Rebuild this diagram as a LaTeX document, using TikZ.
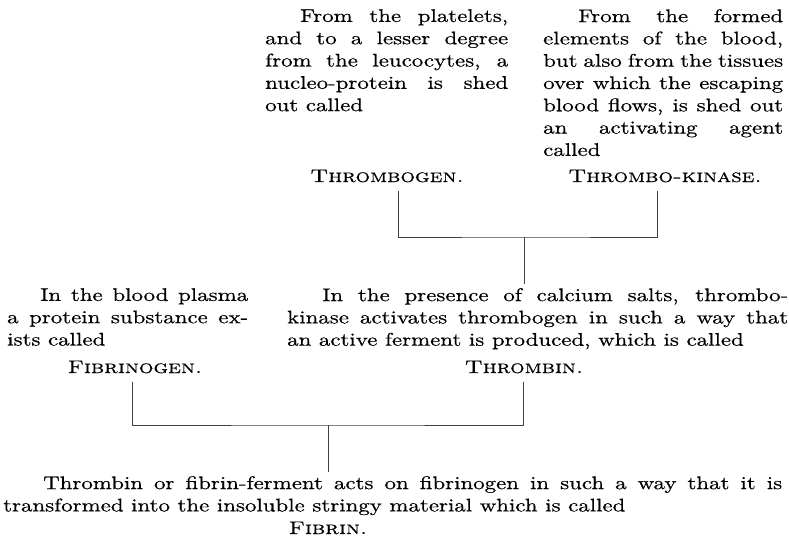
\documentclass[tikz,border=0pt]{standalone}
\usepackage{fontspec}
\setmainfont{lmroman10-regular.otf}[
  FakeStretch=1.25,
  FakeBold=0.5,
  SmallCapsFont=lmromancaps10-regular.otf]
\newcommand{\bookfont}{\fontsize{18.3}{22.3}\selectfont}
\tolerance=10000
\hbadness=10000
\hyphenpenalty=10000
\exhyphenpenalty=10000

\begin{document}
\begin{tikzpicture}[x=1pt, y=-1pt,
  para/.style={anchor=north west, inner sep=0pt, align=justify, font=\bookfont},
  substance/.style={anchor=base, inner sep=0pt, outer ysep=9pt, font=\bookfont\scshape},
  rule/.style={line width=0.6pt, black!75},
]
  \useasboundingbox (0,0) rectangle (789,541);

  % what is shed out of the blood
  \node[para, text width=243pt] (platelets) at (265,9) {\hspace*{35pt}From the platelets,\linebreak and to a lesser degree\linebreak from the leucocytes, a\linebreak nucleo-protein is shed\linebreak out called};
  \node[para, text width=240pt] (elements) at (543,9) {\hspace*{35pt}From the formed\linebreak elements of the blood,\linebreak but also from the tissues\linebreak over which the escaping\linebreak blood flows, is shed out\linebreak an activating agent\linebreak called};
  \node[substance] (thrombogen) at (387,182) {Thrombogen.};
  \node[substance] (kinase) at (665,182) {Thrombo-kinase.};

  % middle row
  \node[para, text width=241pt] (plasma) at (7,288) {\hspace*{33pt}In the blood plasma\linebreak a protein substance ex-\linebreak ists called};
  \node[para, text width=501pt] (presence) at (287,288) {\hspace*{35pt}In the presence of calcium salts, thrombo-\linebreak kinase activates thrombogen in such a way that\linebreak an active ferment is produced, which is called};
  \node[substance] (fibrinogen) at (135,373) {Fibrinogen.};
  \node[substance] (thrombin) at (524,373) {Thrombin.};

  % result
  \node[para, text width=779pt] (ferment) at (3,476) {\hspace*{40pt}Thrombin or fibrin-ferment acts on fibrinogen in such a way that it is\linebreak transformed into the insoluble stringy material which is called};
  \node[substance] (fibrin) at (328,534) {Fibrin.};

  \coordinate (upper join) at (524,237);
  \coordinate (lower join) at (328,425);
  \draw[rule] ([xshift=11pt]thrombogen.south) |- (upper join) -| ([xshift=-8pt]kinase.south);
  \draw[rule, shorten >=4pt] (upper join) -- (upper join |- presence.north);
  \draw[rule] ([xshift=-3pt]fibrinogen.south) |- (lower join) -| ([xshift=-1pt]thrombin.south);
  \draw[rule, shorten >=4pt] (lower join) -- (lower join |- ferment.north);
\end{tikzpicture}
\end{document}
